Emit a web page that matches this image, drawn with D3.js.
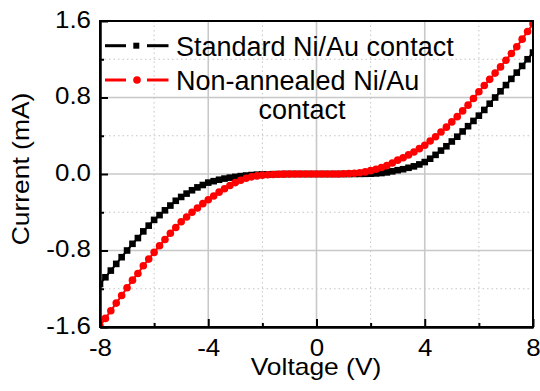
<!DOCTYPE html>
<html>
<head>
<meta charset="utf-8">
<script src="https://cdn.jsdelivr.net/npm/d3@7"></script>
<style>
  html, body { margin: 0; padding: 0; background: #fff; }
  svg { display: block; font-family: "Liberation Sans", Arial, sans-serif; }
</style>
</head>
<body>
<svg id="chart" width="540" height="391"></svg>
<script>
// ---- Data ----
const voltage = [
  -8.0,-7.8,-7.6,-7.4,-7.2,-7.0,-6.8,-6.6,-6.4,-6.2,
  -6.0,-5.8,-5.6,-5.4,-5.2,-5.0,-4.8,-4.6,-4.4,-4.2,
  -4.0,-3.8,-3.6,-3.4,-3.2,-3.0,-2.8,-2.6,-2.4,-2.2,
  -2.0,-1.8,-1.6,-1.4,-1.2,-1.0,-0.8,-0.6,-0.4,-0.2,
   0.0, 0.2, 0.4, 0.6, 0.8, 1.0, 1.2, 1.4, 1.6, 1.8,
   2.0, 2.2, 2.4, 2.6, 2.8, 3.0, 3.2, 3.4, 3.6, 3.8,
   4.0, 4.2, 4.4, 4.6, 4.8, 5.0, 5.2, 5.4, 5.6, 5.8,
   6.0, 6.2, 6.4, 6.6, 6.8, 7.0, 7.2, 7.4, 7.6, 7.8, 8.0
];
const standardCurrent = [
  -1.15,-1.08,-1.01,-0.94,-0.87,-0.80,-0.73,-0.67,-0.60,-0.54,
  -0.48,-0.43,-0.38,-0.33,-0.28,-0.24,-0.205,-0.17,-0.14,-0.115,
  -0.09,-0.075,-0.06,-0.048,-0.038,-0.03,-0.022,-0.016,-0.011,-0.007,
  -0.005,-0.003,-0.002,-0.001,-0.0005,0,0,0,0,0,
   0,0,0,0,0,0,0.0003,0.0006,0.001,0.002,
   0.003,0.006,0.01,0.017,0.028,0.04,0.05,0.065,0.08,0.10,
   0.125,0.16,0.20,0.245,0.29,0.34,0.39,0.445,0.50,0.555,
   0.61,0.67,0.735,0.80,0.865,0.93,0.995,1.06,1.13,1.20,1.27
];
const nonAnnealedCurrent = [
  -1.59,-1.51,-1.43,-1.35,-1.27,-1.19,-1.11,-1.04,-0.96,-0.89,
  -0.82,-0.75,-0.685,-0.62,-0.56,-0.50,-0.45,-0.40,-0.355,-0.31,
  -0.27,-0.23,-0.19,-0.155,-0.12,-0.09,-0.065,-0.045,-0.03,-0.02,
  -0.013,-0.008,-0.005,-0.003,-0.0015,-0.001,0,0,0,0,
   0,0,0,0,0,0.002,0.004,0.008,0.013,0.022,
   0.035,0.05,0.068,0.088,0.115,0.145,0.17,0.20,0.23,0.265,
   0.30,0.345,0.39,0.44,0.49,0.545,0.60,0.66,0.72,0.79,
   0.86,0.925,0.99,1.055,1.12,1.19,1.26,1.33,1.41,1.49,1.57
];
const xMajorTicks = [-8, -4, 0, 4, 8];
const xMinorTicks = [-6, -2, 2, 6];
const yMajorTicks = [-1.6, -0.8, 0.0, 0.8, 1.6];
const yMinorTicks = [-1.2, -0.4, 0.4, 1.2];
const seriesNames = ["Standard Ni/Au contact", "Non-annealed Ni/Au"];
const legendExtra = "contact";
const xTitle = "Voltage (V)";
const yTitle = "Current (mA)";

// ---- Layout ----
const L = 100, R = 533, T = 21, B = 327;
const svg = d3.select("#chart");
const x = d3.scaleLinear().domain([-8, 8]).range([L, R]);
const y = d3.scaleLinear().domain([-1.6, 1.6]).range([B, T]);
const FS_AX = 24, FS_LEG = 27;
const FONT = "'Liberation Sans', Arial, sans-serif";

function stretch(sel, f) {
  sel.each(function () {
    const w = this.getComputedTextLength();
    d3.select(this).attr("textLength", w * f).attr("lengthAdjust", "spacingAndGlyphs");
  });
}
const hyph = s => s.replace("\u2212", "-");

// grid
const grid = svg.append("g");
grid.selectAll(".gxm").data(xMinorTicks).join("line")
  .attr("x1", d => x(d)).attr("x2", d => x(d)).attr("y1", T).attr("y2", B)
  .attr("stroke", "#c4c4c4").attr("stroke-width", 1).attr("stroke-dasharray", "1.5,3");
grid.selectAll(".gym").data(yMinorTicks).join("line")
  .attr("y1", d => y(d)).attr("y2", d => y(d)).attr("x1", L).attr("x2", R)
  .attr("stroke", "#c4c4c4").attr("stroke-width", 1).attr("stroke-dasharray", "1.5,3");
grid.selectAll(".gxM").data(xMajorTicks).join("line")
  .attr("x1", d => x(d)).attr("x2", d => x(d)).attr("y1", T).attr("y2", B)
  .attr("stroke", "#c8c8c8").attr("stroke-width", 1.6);
grid.selectAll(".gyM").data(yMajorTicks).join("line")
  .attr("y1", d => y(d)).attr("y2", d => y(d)).attr("x1", L).attr("x2", R)
  .attr("stroke", "#c8c8c8").attr("stroke-width", 1.6);

// clip
svg.append("clipPath").attr("id", "clip").append("rect")
  .attr("x", L).attr("y", T).attr("width", R - L).attr("height", B - T);

const series = [
  { name: seriesNames[0], vals: standardCurrent, color: "#000000", shape: "square" },
  { name: seriesNames[1], vals: nonAnnealedCurrent, color: "#ff0000", shape: "circle" }
];
const line = d3.line().x(d => x(d[0])).y(d => y(d[1]));
const plot = svg.append("g").attr("clip-path", "url(#clip)");
series.forEach(s => {
  const pts = voltage.map((v, i) => [v, s.vals[i]]);
  plot.append("path").datum(pts).attr("d", line)
    .attr("fill", "none").attr("stroke", s.color).attr("stroke-width", 2);
  if (s.shape === "square") {
    plot.selectAll(null).data(pts).join("rect")
      .attr("x", d => x(d[0]) - 3.3).attr("y", d => y(d[1]) - 3.3)
      .attr("width", 6.6).attr("height", 6.6).attr("fill", s.color);
  } else {
    plot.selectAll(null).data(pts).join("circle")
      .attr("cx", d => x(d[0])).attr("cy", d => y(d[1]))
      .attr("r", 3.8).attr("fill", s.color);
  }
});

// axes
const xAxis = d3.axisBottom(x).tickValues(xMajorTicks).tickSizeInner(-8).tickSizeOuter(0)
  .tickFormat(d => hyph(d3.format("d")(d)));
const xAxisMinor = d3.axisBottom(x).tickValues(xMinorTicks).tickSizeInner(-4).tickSizeOuter(0).tickFormat("");
const yAxis = d3.axisLeft(y).tickValues(yMajorTicks).tickSizeInner(-8).tickSizeOuter(0)
  .tickFormat(d => hyph(d3.format(".1f")(d)));
const yAxisMinor = d3.axisLeft(y).tickValues(yMinorTicks).tickSizeInner(-4).tickSizeOuter(0).tickFormat("");

function styleAxis(g) {
  g.selectAll("path").attr("stroke", "#000").attr("stroke-width", 2);
  g.selectAll("line").attr("stroke", "#000").attr("stroke-width", 2);
  g.selectAll("text").attr("font-size", FS_AX).attr("fill", "#000").attr("font-family", FONT);
}
svg.append("g").attr("transform", `translate(0,${B})`).call(xAxisMinor).call(styleAxis);
const gx = svg.append("g").attr("transform", `translate(0,${B})`).call(xAxis).call(styleAxis);
gx.selectAll("text").attr("dy", null).attr("y", 29).call(stretch, 1.08);
svg.append("g").attr("transform", `translate(${L},0)`).call(yAxisMinor).call(styleAxis);
const gy = svg.append("g").attr("transform", `translate(${L},0)`).call(yAxis).call(styleAxis);
gy.selectAll("text").attr("dy", null).attr("y", 6).attr("x", -9).call(stretch, 1.08);

// frame
svg.append("rect").attr("x", L).attr("y", T).attr("width", R - L).attr("height", B - T)
  .attr("fill", "none").attr("stroke", "#000").attr("stroke-width", 2);

// titles
svg.append("text").attr("x", 316).attr("y", 375).attr("text-anchor", "middle")
  .attr("font-size", FS_AX).text(xTitle).call(stretch, 1.1);
svg.append("text").attr("transform", `translate(28.5,169) rotate(-90)`)
  .attr("text-anchor", "middle").attr("font-size", FS_AX).text(yTitle).call(stretch, 1.1);

// legend
const legY = [45.7, 80];
const legTextY = [56, 89.5];
series.forEach((s, i) => {
  const g = svg.append("g");
  g.append("line").attr("x1", 105).attr("x2", 126).attr("y1", legY[i]).attr("y2", legY[i])
    .attr("stroke", s.color).attr("stroke-width", 3);
  g.append("line").attr("x1", 147).attr("x2", 168.5).attr("y1", legY[i]).attr("y2", legY[i])
    .attr("stroke", s.color).attr("stroke-width", 3);
  if (s.shape === "square") {
    g.append("rect").attr("x", 133.3).attr("y", legY[i] - 3).attr("width", 6).attr("height", 6).attr("fill", s.color);
  } else {
    g.append("circle").attr("cx", 137).attr("cy", legY[i]).attr("r", 3.8).attr("fill", s.color);
  }
  g.append("text").attr("x", 176).attr("y", legTextY[i]).attr("font-size", FS_LEG).text(s.name);
});
svg.append("text").attr("x", 258.5).attr("y", 118.5)
  .attr("font-size", FS_LEG).text(legendExtra);
</script>
</body>
</html>
